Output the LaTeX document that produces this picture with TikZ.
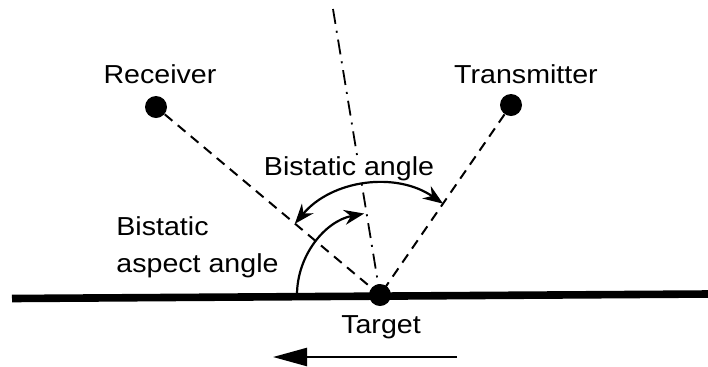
\documentclass[tikz,border=0pt]{standalone}
\usepackage{fontspec}
\setmainfont{Liberation Sans}[FakeStretch=1.1]
\usetikzlibrary{arrows.meta}
\begin{document}
\begin{tikzpicture}[x=0.5pt,y=-0.5pt,
  lbl/.style={font=\fontsize{13}{16}\selectfont, inner sep=0pt, anchor=base},
  dot/.style={circle, fill=black, minimum size=11pt, inner sep=0pt},
  ray/.style={line width=1pt, dash pattern=on 5pt off 3.5pt},
  axisline/.style={line width=0.9pt, dash pattern=on 7.5pt off 3.5pt on 1pt off 3.5pt},
  arc/.style={line width=1.1pt},
  tipa/.style={{Stealth[length=10pt,width=7.5pt]}-{Stealth[length=10pt,width=7.5pt]}},
  tipb/.style={-{Stealth[length=10pt,width=7.5pt]}}]
\useasboundingbox (0,0) rectangle (708,366);
% ground line
\coordinate (gl) at (12,298.5);
\coordinate (gr) at (708,294);
\draw[line width=3.8pt] (gl) -- (gr);
% nodes
\node[dot] (tg) at (380,295) {};
\node[dot] (rx) at (156,107) {};
\node[dot] (tx) at (511,105) {};
\coordinate (top) at (333,9);
% rays
\draw[ray] (rx) -- (tg.center);
\draw[ray] (tx) -- (tg.center);
\draw[axisline] (top) -- (tg.center);
% bistatic angle arc
\draw[arc,tipa]
  ([shift={(140.1:55.5pt)}]tg.center) arc[start angle=140.1,end angle=55.4,radius=55.5pt];
% aspect angle arc
\draw[arc,tipb] ([shift={(180:41.5pt)}]tg.center) arc[start angle=180,end angle=101,radius=41.5pt];
% labels
\node[lbl] (lrx) at (160,83) {Receiver};
\node[lbl] (ltx) at (526,83) {Transmitter};
\node[lbl,fill=white] (lba) at (349,175) {Bistatic angle};
\node[lbl,anchor=base west] (lasp1) at (116,235) {Bistatic};
\node[lbl,anchor=base west] (lasp2) at (116,272) {aspect angle};
\node[lbl] (ltg) at (381,333) {Target};
% motion arrow
\coordinate (ma) at (457,357);
\coordinate (mb) at (273,357);
\draw[line width=1.2pt,-{Triangle[length=17pt,width=9pt]}] (ma) -- (mb);
\end{tikzpicture}
\end{document}
